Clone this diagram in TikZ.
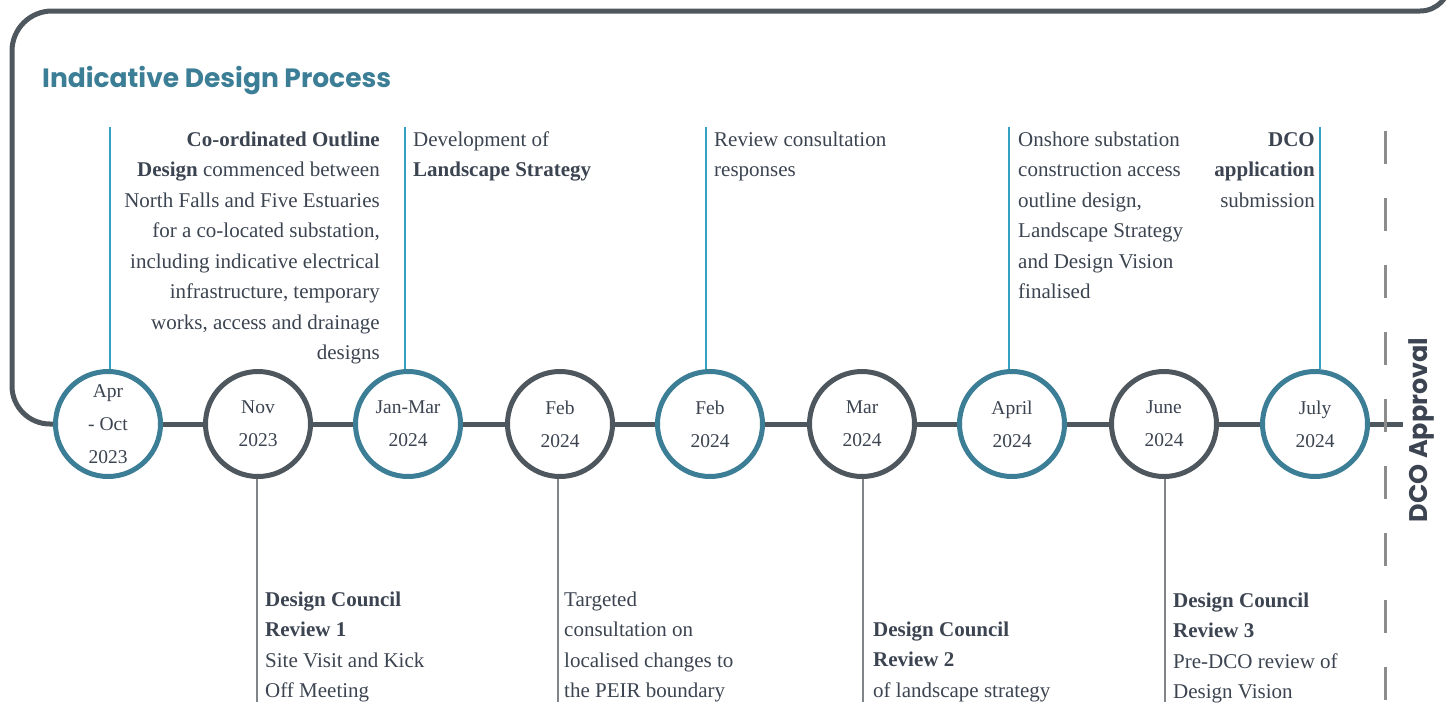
\documentclass[tikz,border=0pt]{standalone}
\usepackage{fontspec}
\setmainfont{Liberation Serif}
\newfontfamily\headfont{Poppins}
\definecolor{tealring}{HTML}{3B7E96}
\definecolor{greyring}{HTML}{4F575E}
\definecolor{txtdark}{HTML}{3B4450}
\definecolor{upline}{HTML}{34A0C4}
\definecolor{downline}{HTML}{818489}
\definecolor{dashgrey}{HTML}{8C8C8C}
\tikzset{
  ring/.style={circle,draw,line width=5pt,fill=white,minimum size=105pt,inner sep=0pt,
    align=center,text=txtdark,font=\fontsize{19.5}{33}\selectfont},
  blurb/.style={inner sep=0pt,text=txtdark,font=\fontsize{21}{30.5}\selectfont},
  upstem/.style={upline,line width=2.5pt},
  downstem/.style={downline,line width=2.5pt}
}
\begin{document}
\begin{tikzpicture}[x=1pt,y=-1pt]
      \useasboundingbox (0,0) rectangle (1452,702);
      % frame and time line
      \coordinate (start) at (60,424);
      \coordinate (stop) at (1403,424);
      \draw[greyring,line width=5pt] (start) [rounded corners=38pt] -- (12,424) [rounded corners=40pt] -- (12,11) [rounded corners=30pt] -- (1450,11) -- (1450,-60);
      \draw[greyring,line width=5pt] (start) -- (stop);
      \draw[dashgrey,line width=3pt,dash pattern=on 33pt off 34pt] (1385,131) -- (1385,702);
      \node[anchor=base west,inner sep=0pt,text=tealring,font=\headfont\bfseries\fontsize{26.5}{30}\selectfont] (title) at (42,87) {Indicative Design Process};
      \node[rotate=90,inner sep=0pt,text=txtdark,font=\headfont\bfseries\fontsize{25.5}{30}\selectfont] (dco) at (1421,430) {DCO Approval};
      \foreach \i/\x/\col/\lbl in {1/108/tealring/{Apr\\- Oct\\2023},2/258/greyring/{Nov\\2023},3/408/tealring/{Jan-Mar\\2024},
          4/560/greyring/{Feb\\2024},5/710/tealring/{Feb\\2024},6/862/greyring/{Mar\\2024},7/1012/tealring/{April\\2024},
          8/1164/greyring/{June\\2024},9/1315/tealring/{July\\2024}}
        \node[ring,draw=\col] (c\i) at (\x,424) {\lbl};
      % stems above
      \foreach \i/\x in {1/110,3/405,5/706,7/1009,9/1320} {
        \coordinate (t\i) at (\x,127);
        \draw[upstem] (t\i) -- (t\i |- c\i.north);
      }
      % stems below
      \foreach \i/\x in {2/257,4/558,6/863,8/1165} {
        \coordinate (b\i) at (\x,702);
        \draw[downstem] (b\i |- c\i.south) -- (b\i);
      }
      \node[blurb,anchor=north east,align=right] (d1) at (380,124.7) {\strut\textbf{Co-ordinated Outline}\\\textbf{Design} commenced between\\North Falls and Five Estuaries\\for a co-located substation,\\including indicative electrical\\infrastructure, temporary\\works, access and drainage\\designs};
      \node[blurb,anchor=north west,align=left] (d3) at (413,124.7) {\strut Development of\\\textbf{Landscape Strategy}};
      \node[blurb,anchor=north west,align=left] (d5) at (714,124.7) {\strut Review consultation\\responses};
      \node[blurb,anchor=north west,align=left] (d7) at (1018,124.7) {\strut Onshore substation\\construction access\\outline design,\\Landscape Strategy\\and Design Vision\\finalised};
      \node[blurb,anchor=north east,align=right] (d9) at (1315,124.7) {\strut\textbf{DCO}\\\textbf{application}\\submission};
      \node[blurb,anchor=north west,align=left] (d2) at (265,584.7) {\strut\textbf{Design Council}\\\textbf{Review 1}\\Site Visit and Kick\\Off Meeting};
      \node[blurb,anchor=north west,align=left] (d4) at (564,584.7) {\strut Targeted\\consultation on\\localised changes to\\the PEIR boundary};
      \node[blurb,anchor=north west,align=left] (d6) at (873,614.7) {\strut\textbf{Design Council}\\\textbf{Review 2}\\of landscape strategy};
      \node[blurb,anchor=north west,align=left] (d8) at (1173,585.7) {\strut\textbf{Design Council}\\\textbf{Review 3}\\Pre-DCO review of\\Design Vision};
\end{tikzpicture}
\end{document}
